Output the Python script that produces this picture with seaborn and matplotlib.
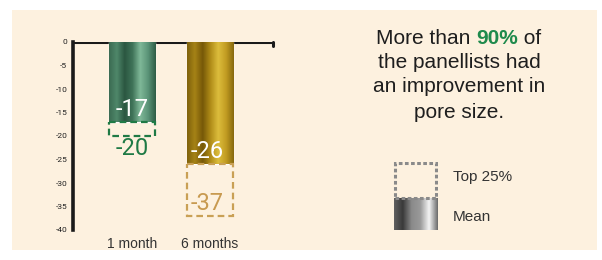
import numpy as np
import pandas as pd
import matplotlib.pyplot as plt
import seaborn as sns
from matplotlib.patches import Rectangle
from matplotlib.colors import LinearSegmentedColormap

# datos
periods = ['1 month', '6 months']
mean_vals = [-17, -26]
top25_vals = [-20, -37]
yticks = [0, -5, -10, -15, -20, -25, -30, -35, -40]

bar_colors = ['#3d6e55', '#a88418']
box_colors = ['#1f7a45', '#c9a055']
label_colors = ['#1f7a45', '#c89a50']

green_cmap = LinearSegmentedColormap.from_list(
    'g', ['#3b6b52', '#4f876a', '#2b5741', '#3f7358', '#7fb898', '#5b9478', '#2e5c45'])
gold_cmap = LinearSegmentedColormap.from_list(
    'o', ['#7f620c', '#a58216', '#765808', '#b08c18', '#dcbd3c', '#c29c22', '#86680e'])
grey_cmap = LinearSegmentedColormap.from_list(
    'k', ['#606060', '#3a3a3a', '#8a8a8a', '#9a9a9a', '#f4f4f4', '#6a6a6a'])

W, H = 602, 260
sns.set_style('white')
plt.rcParams['font.family'] = ['Liberation Sans', 'DejaVu Sans']

fig = plt.figure(figsize=(W / 100, H / 100), dpi=100)
fig.patch.set_facecolor('white')
fig.patches.append(Rectangle((12 / W, 1 - 250 / H), 585 / W, 240 / H,
                             transform=fig.transFigure, facecolor='#fdf1df',
                             edgecolor='none', zorder=-10))


def px_axes(x0, y0, x1, y1):
    a = fig.add_axes([x0 / W, 1 - y1 / H, (x1 - x0) / W, (y1 - y0) / H])
    a.patch.set_alpha(0)
    return a


ax = px_axes(73, 42, 273, 230)

df = pd.DataFrame({'period': periods, 'mean': mean_vals})
sns.barplot(data=df, x='period', y='mean', hue='period', palette=bar_colors,
            width=0.59, legend=False, ax=ax, zorder=2)

grad = np.linspace(0, 1, 256).reshape(1, -1)
for patch, cmap in zip(list(ax.patches), [green_cmap, gold_cmap]):
    x0, y0 = patch.get_x(), patch.get_y()
    w, h = patch.get_width(), patch.get_height()
    im = ax.imshow(grad, cmap=cmap, aspect='auto', zorder=3,
                   extent=[x0, x0 + w, y0 + h, y0])
    im.set_clip_path(patch)

# cajas del 25% superior
for i, (m, t) in enumerate(zip(mean_vals, top25_vals)):
    ax.bar(i, t - m, bottom=m, width=0.6, fill=False, edgecolor=box_colors[i],
           linewidth=1.6, linestyle=(0, (3, 1.8)), zorder=4)

ax.set_xlim(-0.756, 1.808)
ax.set_ylim(-40, 0)

# etiquetas de valores
narrow = ['Roboto', 'DejaVu Sans']
ax.annotate(str(mean_vals[0]), (0, mean_vals[0]), xytext=(0, 1), textcoords='offset points',
            ha='center', va='bottom', color='white', fontsize=17, family=narrow, zorder=5)
ax.annotate(str(top25_vals[0]), (0, top25_vals[0]), xytext=(0, -1), textcoords='offset points',
            ha='center', va='top', color=label_colors[0], fontsize=17, family=narrow, zorder=5)
ax.annotate(str(mean_vals[1]), (1, mean_vals[1]), xytext=(-2, 1), textcoords='offset points',
            ha='center', va='bottom', color='white', fontsize=17, family=narrow, zorder=5)
ax.annotate(str(top25_vals[1]), (1, top25_vals[1]), xytext=(-2, 1), textcoords='offset points',
            ha='center', va='bottom', color=label_colors[1], fontsize=17, family=narrow, zorder=5)

# ejes
ax.axhline(0, color='#1a1a1a', linewidth=2.2, zorder=1)
ax.plot([1.808, 1.808], [0, -0.8], color='#1a1a1a', linewidth=2.2, clip_on=False)
for s in ['top', 'right', 'bottom']:
    ax.spines[s].set_visible(False)
ax.spines['left'].set_color('#1a1a1a')
ax.spines['left'].set_linewidth(2.6)
ax.set_yticks(yticks)
ax.set_yticklabels([str(v) for v in yticks], fontsize=6, family=narrow, color='#222222')
ax.tick_params(axis='y', length=0, pad=4)
ax.tick_params(axis='x', length=0, pad=5, labelsize=10, labelcolor='#333333')
ax.set_xlabel('')
ax.set_ylabel('')

# texto de la derecha
fs = 15
cx = 459
lines = [(63, 'the panellists had'), (87, 'an improvement in'), (112, 'pore size.')]
for y, s in lines:
    fig.text(cx / W, 1 - y / H, s, ha='center', va='center', fontsize=fs, color='#1e1e1e')

parts = [('More than ', '#1e1e1e', 'normal'), ('90%', '#1f8a4c', 'bold'), (' of', '#1e1e1e', 'normal')]
fig.canvas.draw()
r = fig.canvas.get_renderer()
widths = []
for s, c, wt in parts:
    t = fig.text(0, 0, s, fontsize=fs, fontweight=wt)
    widths.append(t.get_window_extent(r).width)
    t.remove()
x = cx - sum(widths) / 2
for (s, c, wt), wd in zip(parts, widths):
    fig.text(x / W, 1 - 38 / H, s, ha='left', va='center', fontsize=fs,
             color=c, fontweight=wt)
    x += wd

# leyenda
lax = px_axes(393, 162, 438, 230)
lax.set_axis_off()
split = 32 / 68
lax.imshow(grad, cmap=grey_cmap, aspect='auto', extent=[0.02, 0.98, 0, split])
lax.add_patch(Rectangle((0.04, split), 0.92, 1 - split - 0.02, fill=False,
                        edgecolor='#8a8a8a', linewidth=2.2, linestyle=(0, (1.2, 0.8))))
lax.set_xlim(0, 1)
lax.set_ylim(0, 1)
fig.text(453 / W, 1 - 177 / H, 'Top 25%', ha='left', va='center', fontsize=11, color='#333333')
fig.text(453 / W, 1 - 217 / H, 'Mean', ha='left', va='center', fontsize=11, color='#333333')

fig.savefig('out.png', dpi=100)
